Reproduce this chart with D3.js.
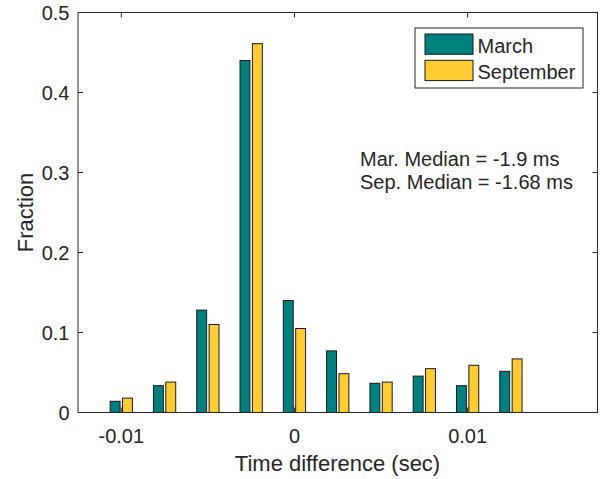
<!DOCTYPE html>
<html>
<head>
<meta charset="utf-8">
<script src="https://cdn.jsdelivr.net/npm/d3@7"></script>
<style>
  body { margin: 0; background: #fff; }
  text { font-family: "Liberation Sans", Arial, sans-serif; fill: #262626; }
</style>
</head>
<body>
<div id="chart"></div>
<script>
// bin centers (sec) and fractions
const binCenters = [-0.01, -0.0075, -0.005, -0.0025, 0, 0.0025, 0.005, 0.0075, 0.01, 0.0125];
const marchValues = [0.014, 0.0335, 0.128, 0.440, 0.140, 0.077, 0.0365, 0.0455, 0.0335, 0.0515];
const septValues = [0.018, 0.038, 0.110, 0.461, 0.105, 0.0485, 0.038, 0.0548, 0.059, 0.067];
const seriesNames = ['March', 'September'];
const seriesColors = ['#008080', '#ffcc33'];
const xTicks = [-0.01, 0, 0.01];
const xTickLabels = ['-0.01', '0', '0.01'];
const yTicks = [0, 0.1, 0.2, 0.3, 0.4, 0.5];
const notes = ['Mar. Median = -1.9 ms', 'Sep. Median = -1.68 ms'];

const W = 601, H = 479;
const box = { left: 78, right: 597.5, top: 12.5, bottom: 412.5 };
const axisColor = '#262626';

let svg = d3.select('#chart').append('svg')
    .attr('width', W).attr('height', H);

let x = d3.scaleLinear().domain([-0.0125, 0.0175]).range([box.left, box.right]);
let y = d3.scaleLinear().domain([0, 0.5]).range([box.bottom, box.top]);

// grouped bar geometry like matlab: 2 series, groupwidth 0.5714, bar width 0.8
let spacing = 0.0025;
let groupW = spacing * 2 / 3.5;
let barW = groupW / 2 * 0.8;
let offsets = [-groupW / 4, groupW / 4];

let series = [marchValues, septValues];
series.forEach((vals, s) => {
    svg.append('g').selectAll('rect')
        .data(vals)
        .join('rect')
        .attr('x', (d, i) => x(binCenters[i] + offsets[s] - barW / 2))
        .attr('width', x(barW) - x(0))
        .attr('y', d => y(d))
        .attr('height', d => y(0) - y(d))
        .attr('fill', seriesColors[s])
        .attr('stroke', '#1a1a1a')
        .attr('stroke-width', 1);
});

// axes box with inward ticks on all four sides
let axes = svg.append('g');
axes.append('rect')
    .attr('x', box.left).attr('y', box.top)
    .attr('width', box.right - box.left).attr('height', box.bottom - box.top)
    .attr('fill', 'none').attr('stroke', axisColor).attr('stroke-width', 1);

let tl = 5;
xTicks.forEach((t, i) => {
    axes.append('line').attr('x1', x(t)).attr('x2', x(t))
        .attr('y1', box.bottom).attr('y2', box.bottom - tl)
        .attr('stroke', axisColor);
    axes.append('line').attr('x1', x(t)).attr('x2', x(t))
        .attr('y1', box.top).attr('y2', box.top + tl)
        .attr('stroke', axisColor);
    axes.append('text')
        .attr('x', x(t)).attr('y', 443)
        .attr('text-anchor', 'middle')
        .style('font-size', '20px')
        .text(xTickLabels[i]);
});
yTicks.forEach(t => {
    axes.append('line').attr('x1', box.left).attr('x2', box.left + tl)
        .attr('y1', y(t)).attr('y2', y(t))
        .attr('stroke', axisColor);
    axes.append('line').attr('x1', box.right).attr('x2', box.right - tl)
        .attr('y1', y(t)).attr('y2', y(t))
        .attr('stroke', axisColor);
    axes.append('text')
        .attr('x', 69.5).attr('y', y(t) + 7.3)
        .attr('text-anchor', 'end')
        .style('font-size', '20px')
        .text(t);
});

// axis labels
svg.append('text')
    .attr('x', 337.5).attr('y', 470.5)
    .attr('text-anchor', 'middle')
    .style('font-size', '22px')
    .text('Time difference (sec)');
svg.append('text')
    .attr('transform', 'translate(32.5,' + (box.top + box.bottom) / 2 + ') rotate(-90)')
    .attr('text-anchor', 'middle')
    .style('font-size', '22px')
    .text('Fraction');

// legend
let legend = svg.append('g');
legend.append('rect')
    .attr('x', 415).attr('y', 28).attr('width', 168).attr('height', 60)
    .attr('fill', '#fff').attr('stroke', axisColor).attr('stroke-width', 1);
seriesNames.forEach((name, i) => {
    legend.append('rect')
        .attr('x', 425).attr('y', 34 + i * 26.3)
        .attr('width', 48).attr('height', 20.3)
        .attr('fill', seriesColors[i]).attr('stroke', '#1a1a1a');
    legend.append('text')
        .attr('x', 477.5).attr('y', 52.5 + i * 26)
        .style('font-size', '20px')
        .text(name);
});

// medians annotation
notes.forEach((n, i) => {
    svg.append('text')
        .attr('x', 360).attr('y', 165.5 + i * 23)
        .style('font-size', '20px')
        .text(n);
});
</script>
</body>
</html>
